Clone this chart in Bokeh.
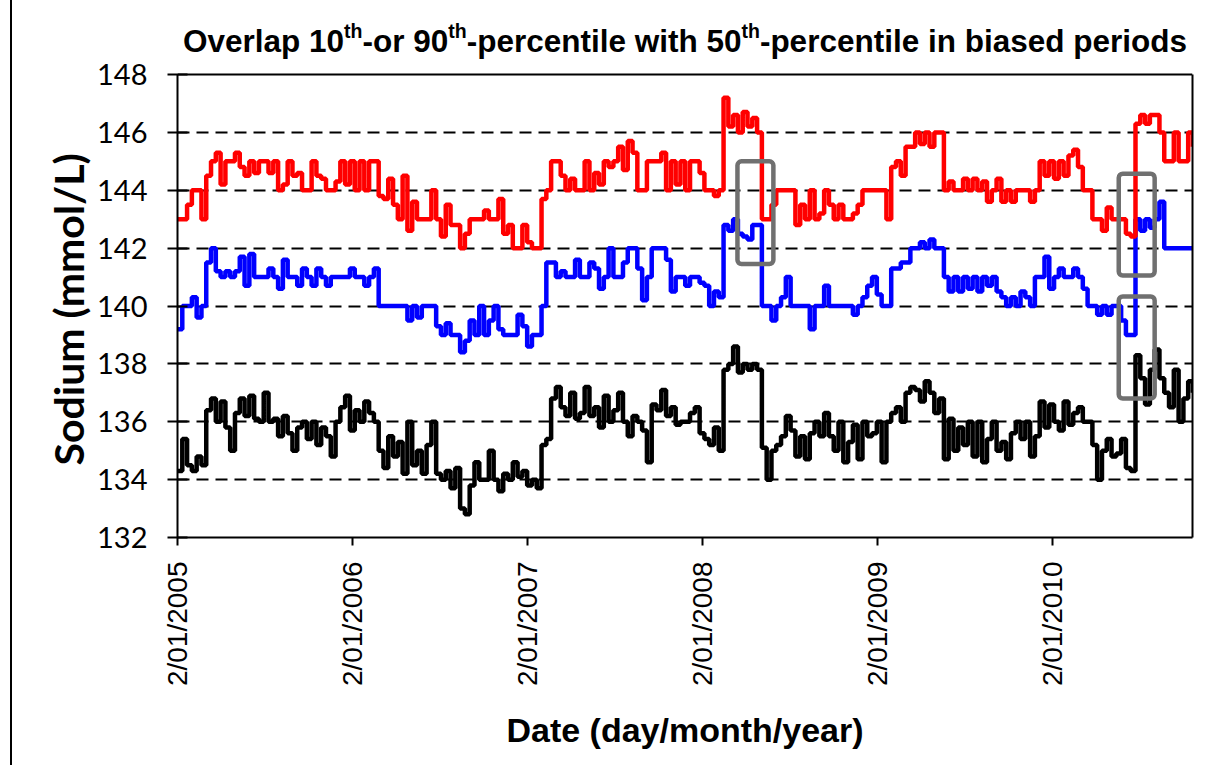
import math
import pandas as pd
from bokeh.plotting import figure
from bokeh.models import FixedTicker, Label, BoxAnnotation, Range1d, Span, LinearAxis, Title
from bokeh.embed import file_html
from bokeh.resources import INLINE

# ---------------- data (one value every 10 days) ----------------
start_date = "2005-01-02"
end_date = "2010-10-22"

p90_red = [
    143, 143, 143.5, 144, 144, 143, 144.5, 145, 145.3, 144.2,
    145, 145, 145.3, 144.8, 144.5, 145, 144.6, 145, 145, 144.6,
    145, 144, 144.2, 145, 144.5, 144.6, 144, 144, 145, 144.5,
    144.4, 144, 144, 144.3, 145, 144.2, 145, 144, 145, 144,
    145, 145, 143.8, 143.7, 144.4, 143.5, 143, 144.5, 142.6, 143.6,
    143, 143, 143, 144, 143, 142.4, 143.5, 142.8, 142.8, 142,
    142.5, 143, 143, 143, 143.3, 143, 143, 143.7, 142.5, 142.8,
    142, 142, 142.8, 142.2, 142, 142, 143.7, 144, 145, 145,
    144.5, 144, 144.4, 144, 144, 145, 144, 144.6, 144.2, 145,
    144.8, 145, 145.5, 144.7, 145.7, 145.3, 144, 144, 145, 145,
    145, 145.3, 144, 145, 144.2, 145, 144, 145, 145, 144.6,
    144, 144, 143.8, 144, 147.2, 146.2, 146.6, 146, 146.7, 146.2,
    146.5, 146, 143, 143, 143.5, 144, 144, 144, 144, 142.8,
    143.5, 143, 144, 143, 143.2, 144, 143.5, 143, 143.5, 143,
    143, 143.2, 143.5, 144, 144, 144, 144, 144, 143, 144.8,
    145, 144.5, 145.5, 145.5, 146, 145.6, 146, 145.5, 146, 146,
    144, 144.3, 144, 144, 144.4, 144, 144.4, 144, 144.3, 143.6,
    144, 144.4, 143.6, 144, 143.6, 144, 144, 144, 143.6, 144,
    145, 144.5, 145, 144.4, 145, 144.5, 145.2, 145.4, 144.8, 144,
    144, 143, 143, 142.6, 143.4, 143, 143, 143, 142.5, 142.4,
    146.3, 146.6, 146.3, 146.6, 146.6, 146, 145, 145, 146, 145,
    145, 146, 145.5,
]

p50_blue = [
    139.2, 140, 140, 140.3, 139.6, 140, 141.5, 142, 141.2, 141,
    141.2, 141, 141.2, 141.7, 140.7, 141.8, 141, 141, 141, 141.3,
    141, 140.6, 141.6, 141, 141, 140.7, 141.3, 141, 140.7, 141.3,
    141, 140.7, 141, 141, 141, 141, 141.3, 141, 141, 140.7,
    141, 141.3, 140, 140, 140, 140, 140, 140, 139.5, 140,
    139.6, 140, 140, 140, 139.3, 139, 139.4, 139, 139, 138.4,
    138.8, 139.5, 139, 140, 139, 139.5, 140, 139.2, 139, 139,
    139, 139.7, 139.3, 138.6, 139, 139, 140, 141.5, 141.5, 141,
    141.2, 141, 141, 141.6, 141, 141, 141.5, 141.3, 140.6, 141,
    142, 141, 141, 141.5, 142, 142, 141.3, 140.2, 141, 142,
    142, 142, 141.6, 140.5, 141, 141, 140.7, 141, 141, 140.8,
    140.7, 140, 140.5, 140.3, 142.8, 142.6, 143, 142.5, 142.4, 142.3,
    142.8, 142.8, 140, 140, 139.5, 140, 140.3, 141, 140, 140,
    140, 140, 139.2, 140, 140, 140.7, 140, 140, 140, 140,
    140, 139.7, 140, 140.3, 140.7, 141, 140.4, 140, 140, 141.3,
    141.3, 141.5, 141.5, 142, 142, 142.2, 142, 142.3, 142, 142,
    141, 140.5, 141, 140.5, 141, 140.6, 141, 140.5, 141, 140.7,
    141, 140.5, 140.3, 140, 140.3, 140, 140.5, 140.3, 140, 141,
    141, 141.7, 140.6, 141, 141.3, 141, 141, 141.3, 141, 140.6,
    140, 140, 139.7, 140, 139.7, 140, 140, 139.5, 139, 139,
    143, 142.6, 143, 142.7, 143, 143.6, 142, 142, 142, 142,
    142, 142, 142,
]

p10_black = [
    134.3, 135.4, 134.5, 134.3, 134.8, 134.5, 136.4, 136.8, 136, 136.7,
    135.8, 135, 136.3, 136.8, 136.2, 136.9, 136.1, 136, 137, 136,
    136.1, 135.5, 136.2, 135.6, 135, 135.8, 136, 135.4, 136, 135.2,
    135.8, 135.5, 134.8, 136, 136.5, 136.9, 135.7, 136.4, 136, 136.7,
    136.3, 136, 135, 134.4, 135.5, 134.8, 135.3, 134.2, 136, 134.5,
    135, 134.2, 135.2, 136, 134.2, 134, 134.3, 133.7, 134.4, 133,
    132.8, 133.8, 134.6, 134, 134, 135, 134, 133.6, 134.2, 134,
    134.6, 134.1, 134.3, 133.8, 134, 133.7, 135.2, 135.4, 136.8, 137.2,
    136.5, 136.2, 137, 136.1, 136.3, 137.2, 136.2, 136.5, 135.8, 136.9,
    136, 136.4, 137, 136, 135.5, 136.2, 136, 135.7, 134.6, 136.6,
    136.4, 137.1, 136.2, 136.5, 135.9, 136, 136, 136.3, 136.5, 135.6,
    135.4, 135.2, 135.8, 135, 137.8, 138, 138.6, 137.7, 138, 137.8,
    138, 137.8, 135.1, 134, 135, 135.2, 135.5, 136.2, 135.7, 134.8,
    135.5, 134.7, 135.6, 136, 135.5, 136.3, 135.5, 135, 136, 134.6,
    135.3, 135.9, 134.7, 136, 135.5, 135.6, 136, 134.6, 136, 136.3,
    136.5, 136, 137, 137.2, 137.1, 136.7, 137.4, 137, 136.3, 136.8,
    134.7, 136.1, 135, 135.8, 135.2, 136, 134.8, 136, 134.6, 135.4,
    136, 135, 135.3, 134.7, 135.6, 136, 135.4, 136, 134.8, 135.5,
    136.7, 135.8, 136.6, 136, 135.7, 136.7, 135.9, 136.3, 136.5, 136,
    136, 135.2, 134, 135, 135.4, 134.8, 134.9, 135.4, 134.4, 134.3,
    138.3, 137.5, 136.6, 137.8, 138.5, 137.5, 137, 136.5, 137.8, 136,
    136.8, 137.4, 137,
]

tick_dates = ["2005-01-02", "2006-01-02", "2007-01-02", "2008-01-02", "2009-01-02", "2010-01-02"]
tick_labels = ["2/01/2005", "2/01/2006", "2/01/2007", "2/01/2008", "2/01/2009", "2/01/2010"]
y_ticks = [132, 134, 136, 138, 140, 142, 144, 146, 148]

# highlighted (biased) periods: start date, end date, bottom, top
box_starts = ["2008-03-16", "2010-05-21", "2010-05-21"]
box_ends = ["2008-05-30", "2010-08-04", "2010-08-04"]
box_bottoms = [141.45, 141.05, 136.8]
box_tops = [145.0, 144.57, 140.33]

title_parts = ["Overlap 10", "th", "-or 90", "th", "-percentile with 50", "th", "-percentile in biased periods"]
title_sup = [False, True, False, True, False, True, False]


def ms(d):
    return pd.Timestamp(d).value / 1e6


dates = pd.date_range(start_date, periods=len(p90_red), freq="10D")

W, H = 1213, 765
BL, BR, BB = 177, 21, 228
PLOT_TOP = 74          # page y of the 148 line
FRAME_TOP = 4          # the frame reaches up so the title (with superscripts) can sit inside it
Y_MIN, Y_MAX = 132, 148
px_per_unit = (H - BB - PLOT_TOP) / (Y_MAX - Y_MIN)
y_end = Y_MIN + (H - BB - FRAME_TOP) / px_per_unit
frame_w = W - BL - BR

p = figure(width=W, height=H, x_axis_type="datetime", title=None,
           x_range=Range1d(ms(start_date), ms(end_date)), y_range=Range1d(Y_MIN, y_end),
           output_backend="svg", toolbar_location=None,
           min_border_left=BL, min_border_right=BR, min_border_top=FRAME_TOP, min_border_bottom=BB)
p.background_fill_color = "white"
p.border_fill_color = None
p.styles = {"background-image": "linear-gradient(to right, white 10px, black 10px, black 12px, white 12px)"}
p.outline_line_color = None

# grid + top edge of the plot area
p.xgrid.visible = False
p.ygrid.ticker = FixedTicker(ticks=y_ticks[1:-1])
p.ygrid.grid_line_color = "black"
p.ygrid.grid_line_width = 2
p.ygrid.grid_line_dash = "12 7"
p.add_layout(Span(location=Y_MAX, dimension="width", line_color="black", line_width=2))

# y axis
p.yaxis.bounds = (Y_MIN, Y_MAX)
p.yaxis.ticker = FixedTicker(ticks=y_ticks)
p.yaxis.axis_line_width = 2
p.yaxis.axis_line_color = "black"
p.yaxis.major_tick_line_width = 2
p.yaxis.major_tick_line_color = "black"
p.yaxis.major_tick_in = 10
p.yaxis.major_tick_out = 10
p.yaxis.minor_tick_line_color = None
p.yaxis.major_label_text_font = "Lato"
p.yaxis.major_label_text_font_size = "29px"
p.yaxis.major_label_text_color = "black"
p.yaxis.major_label_standoff = 20

# y axis title: starts 72 px above the bottom of the plot area and reads upward
p.add_layout(Title(text="Sodium (mmol/L)", align="left", offset=72,
                   text_font="Lato", text_font_style="bold", text_font_size="41px",
                   text_color="black", standoff=4), "left")

# right edge of the plot area
right = LinearAxis(bounds=(Y_MIN, Y_MAX), ticker=FixedTicker(ticks=[]), axis_line_width=2,
                   axis_line_color="black", major_tick_line_color=None, minor_tick_line_color=None,
                   major_label_text_font_size="0px")
p.add_layout(right, "right")

# x axis
p.xaxis.ticker = FixedTicker(ticks=[ms(d) for d in tick_dates])
p.xaxis.major_label_overrides = {ms(d): lab for d, lab in zip(tick_dates, tick_labels)}
p.xaxis.major_label_orientation = math.pi / 2
p.xaxis.axis_line_width = 2
p.xaxis.axis_line_color = "black"
p.xaxis.major_tick_line_width = 2
p.xaxis.major_tick_line_color = "black"
p.xaxis.major_tick_in = 0
p.xaxis.major_tick_out = 8
p.xaxis.minor_tick_line_color = None
p.xaxis.major_label_text_font = "Liberation Sans"
p.xaxis.major_label_text_font_size = "28px"
p.xaxis.major_label_text_color = "black"
p.xaxis.major_label_standoff = 16
p.xaxis.axis_label = "Date (day/month/year)"
p.xaxis.axis_label_text_font = "Liberation Sans"
p.xaxis.axis_label_text_font_style = "bold"
p.xaxis.axis_label_text_font_size = "34px"
p.xaxis.axis_label_text_color = "black"
p.xaxis.axis_label_standoff = 22

# series
p.step(x=dates, y=p10_black, mode="after", line_color="black", line_width=4.5)
p.step(x=dates, y=p50_blue, mode="after", line_color="#0000ff", line_width=4.5)
p.step(x=dates, y=p90_red, mode="after", line_color="#ff0000", line_width=4.5)

# grey highlight boxes
for s, e, b, tp in zip(box_starts, box_ends, box_bottoms, box_tops):
    p.add_layout(BoxAnnotation(left=ms(s), right=ms(e), bottom=b, top=tp,
                               fill_color=None, fill_alpha=0,
                               line_color="#707070", line_alpha=1.0, line_width=4.5,
                               border_radius=4))

# chart title with superscripts (Arial Bold advance widths, per 1000 em)
AW = {' ': 278, 'O': 778, 'v': 556, 'e': 556, 'r': 389, 'l': 278, 'a': 556, 'p': 611,
      '1': 556, '0': 556, 't': 333, 'h': 611, '-': 333, 'o': 611, '9': 556, 'c': 556,
      'n': 611, 'i': 278, 'w': 778, '5': 556, 'b': 611, 's': 556, 'd': 611}
MAIN, SUP = 31.5, 19.5
widths = [sum(AW.get(ch, 556) for ch in s) / 1000 * (SUP if sup else MAIN)
          for s, sup in zip(title_parts, title_sup)]
xpos = frame_w / 2 - sum(widths) / 2
base_y = (H - BB) - 40     # screen units from the frame bottom
for s, sup, w in zip(title_parts, title_sup, widths):
    p.add_layout(Label(x=xpos, y=base_y + (10 if sup else 0), x_units="screen", y_units="screen",
                       text=s, text_font="Liberation Sans", text_font_style="bold",
                       text_font_size=f"{SUP if sup else MAIN}px", text_color="black",
                       text_baseline="alphabetic", text_align="left"))
    xpos += w

open("out.html", "w").write(file_html(p, INLINE))
